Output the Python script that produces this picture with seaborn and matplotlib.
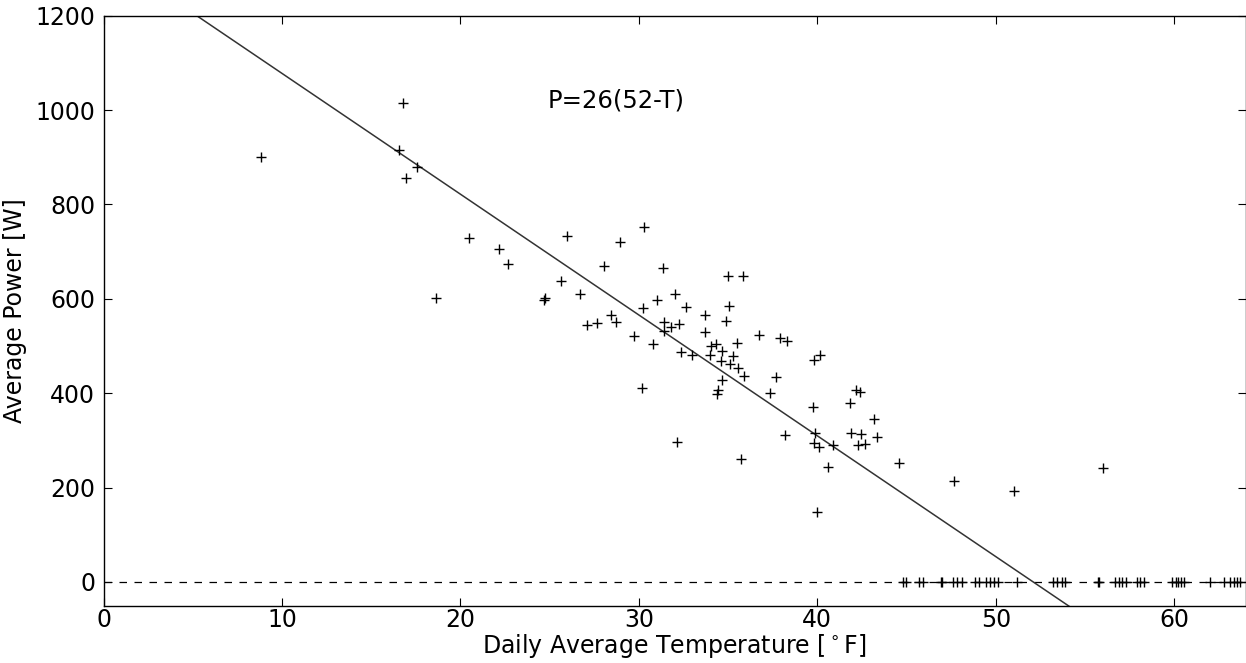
import numpy as np
import matplotlib
matplotlib.use("Agg")
import matplotlib.pyplot as plt
import seaborn as sns
import pandas as pd

sns.set_style("white")
plt.rcParams['font.family'] = ['DejaVu Sans']
plt.rcParams.update({"text.color": "black", "axes.labelcolor": "black",
                     "xtick.color": "black", "ytick.color": "black"})

# daily average temperature [F] and average power [W]
temp_f = [8.8, 16.8, 16.58, 17.55, 16.95, 20.5, 18.63, 22.18, 22.65, 25.99,
          30.31, 28.95, 28.05, 25.62, 24.7, 24.75, 26.7, 27.08, 27.64, 28.42,
          28.72, 30.22, 31.0, 29.73, 30.81, 30.15, 31.34, 35.0, 35.86, 32.05,
          32.63, 35.04, 33.71, 34.89, 31.41, 31.79, 32.27, 31.43, 33.69, 36.72,
          37.91, 38.32, 35.47, 34.34, 34.05, 32.35, 32.96, 34.68, 33.99, 35.3,
          34.59, 35.11, 35.58, 35.9, 34.67, 37.67, 34.44, 34.37, 37.37, 39.8,
          40.14, 39.73, 38.16, 39.89, 39.82, 40.1, 40.9, 32.16, 35.71, 40.62,
          42.16, 42.4, 41.84, 43.18, 41.88, 42.44, 43.37, 42.3, 42.68, 44.58,
          47.65, 39.96, 51.0, 56.02]
power_w = [901, 1014, 916, 879, 856, 729, 602, 706, 673, 733,
           752, 720, 669, 638, 598, 602, 611, 545, 549, 565,
           552, 580, 597, 521, 505, 411, 665, 648, 648, 610,
           583, 585, 565, 553, 552, 541, 547, 531, 529, 524,
           518, 510, 507, 505, 501, 487, 482, 489, 480, 478,
           468, 463, 454, 437, 429, 435, 406, 398, 400, 470,
           480, 370, 311, 315, 295, 287, 291, 297, 260, 243,
           406, 402, 379, 346, 316, 314, 308, 291, 293, 252,
           214, 149, 193, 242]

# days with no heating (zero power)
zero_temp_f = [44.8, 44.95, 45.7, 45.9, 46.95, 47.0, 47.6, 47.85, 48.1, 48.85,
               49.05, 49.45, 49.65, 49.9, 50.15, 51.2, 53.2, 53.45, 53.7, 53.9,
               55.75, 55.8, 56.7, 56.9, 57.1, 57.3, 57.9, 58.1, 58.3, 59.85,
               60.1, 60.2, 60.4, 60.55, 62.0, 62.8, 63.15, 63.35, 63.5, 63.7]

# fitted line as drawn
slope = 25.6
t_zero = 52.1

df = pd.DataFrame({"T": temp_f + zero_temp_f,
                   "P": power_w + [0] * len(zero_temp_f)})

fig = plt.figure(figsize=(12.46, 6.63), dpi=100)
ax = fig.add_axes([0.0831, 0.0866, 0.9166, 0.8897])

ax.axhline(0, color="black", ls="--", lw=0.9, dashes=(6, 6), zorder=1)

t_line = np.linspace(0, 64, 200)
fit = pd.DataFrame({"T": t_line, "P": slope * (t_zero - t_line)})
sns.lineplot(data=fit, x="T", y="P", color="#333333", lw=1.1, ax=ax, zorder=2)

sns.scatterplot(data=df, x="T", y="P", marker="+", color="black",
                s=45, linewidth=1.0, ax=ax, zorder=3)

ax.text(24.9, 1020, "P=26(52-T)", fontsize=17.5, va="center", ha="left")

ax.set_xlim(0, 64)
ax.set_ylim(-50, 1200)
ax.set_xticks([0, 10, 20, 30, 40, 50, 60])
ax.set_yticks([0, 200, 400, 600, 800, 1000, 1200])
ax.tick_params(direction="in", length=6, width=0.8, labelsize=17,
               top=True, right=True, bottom=True, left=True)
ax.tick_params(axis="x", pad=2)
ax.tick_params(axis="y", pad=6)
for sp in ax.spines.values():
    sp.set_color("black")
    sp.set_linewidth(1.0)
ax.set_xlabel(r"Daily Average Temperature [$^\circ$F]", fontsize=17, labelpad=0)
ax.set_ylabel("Average Power [W]", fontsize=17, labelpad=6)

plt.savefig("out.png", dpi=100)
